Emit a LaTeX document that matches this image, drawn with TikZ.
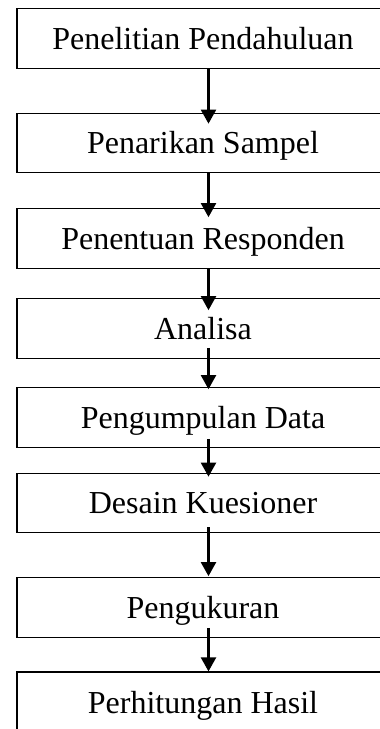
\documentclass[tikz,border=0pt]{standalone}
\usepackage{fontspec}
\setmainfont{Liberation Serif}
\usetikzlibrary{arrows.meta}
\tikzset{
  stepbox/.style={draw=black, line width=1.2pt, fill=white, rectangle,
    minimum width=372pt, minimum height=59.5pt, inner sep=0pt,
    text height=21pt, text depth=0pt,
    font=\fontsize{32pt}{38pt}\selectfont},
  arr/.style={line width=2.2pt, -{Triangle[length=14pt,width=15pt]}}
}
\begin{document}
\begin{tikzpicture}[x=1pt,y=-1pt]
\clip (0,0) rectangle (380,729);
\fill[white] (0,0) rectangle (380,729);
\node[stepbox] (b1) at (203,38.5) {Penelitian Pendahuluan};
\node[stepbox] (b2) at (203,143) {Penarikan Sampel};
\node[stepbox] (b3) at (203,238.5) {Penentuan Responden};
\node[stepbox] (b4) at (203,328.5) {Analisa};
\node[stepbox] (b5) at (203,417.5) {Pengumpulan Data};
\node[stepbox] (b6) at (203,503) {Desain Kuesioner};
\node[stepbox] (b7) at (203,607.5) {Pengukuran};
\node[stepbox, minimum height=62pt] (b8) at (203,703) {Perhitungan Hasil};
\draw[arr] ([xshift=5.5pt]b1.south) -- ([xshift=5.5pt,yshift=-11pt]b2.north);
\draw[arr] ([xshift=5.5pt]b2.south) -- ([xshift=5.5pt,yshift=-9pt]b3.north);
\draw[arr] ([xshift=5.5pt]b3.south) -- ([xshift=5.5pt,yshift=-12pt]b4.north);
\draw[arr] ([xshift=5.5pt,yshift=11pt]b4.south) -- ([xshift=5.5pt,yshift=-2pt]b5.north);
\draw[arr] ([xshift=5.5pt,yshift=9pt]b5.south) -- ([xshift=5.5pt,yshift=-4pt]b6.north);
\draw[arr] ([xshift=5.5pt,yshift=6pt]b6.south) -- ([xshift=5.5pt,yshift=1pt]b7.north);
\draw[arr] ([xshift=5.5pt,yshift=10pt]b7.south) -- ([xshift=5.5pt]b8.north);
\end{tikzpicture}
\end{document}
